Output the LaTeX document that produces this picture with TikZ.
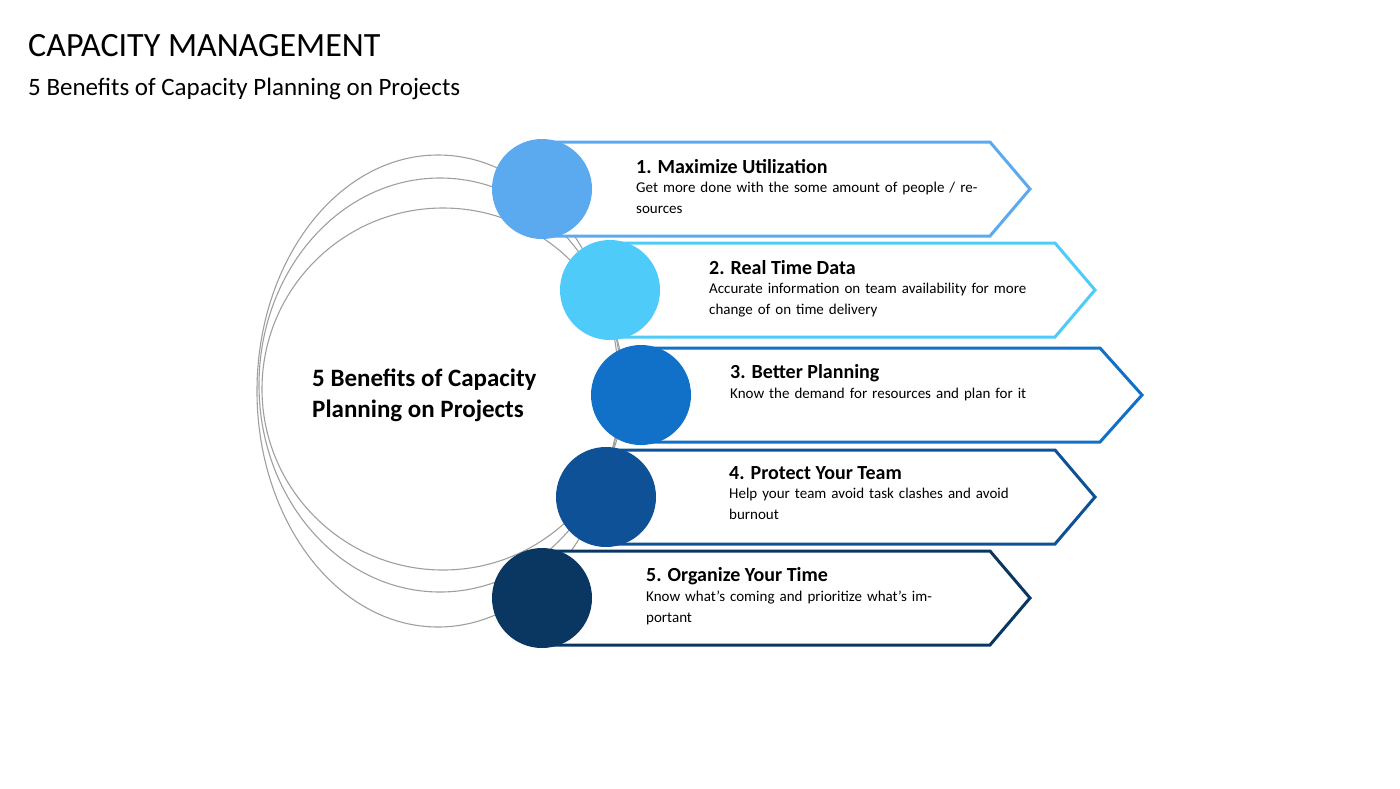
\documentclass[tikz,border=0pt]{standalone}
\usepackage{fontspec}
\setmainfont{Carlito}
\definecolor{cA}{HTML}{5BAAEF}
\definecolor{cB}{HTML}{4FCBF9}
\definecolor{cC}{HTML}{1170C8}
\definecolor{cD}{HTML}{0E5196}
\definecolor{cE}{HTML}{0A3761}
\begin{document}
\begin{tikzpicture}[x=1pt,y=-1pt,
  ring/.style={draw=gray!75,line width=1.1pt},
  head/.style={anchor=west,font=\fontsize{20}{24}\selectfont\bfseries,inner sep=0},
  body/.style={anchor=north west,align=left,font=\fontsize{15}{21}\selectfont,inner sep=0,text width=#1},
  body/.default=360pt]
\useasboundingbox (0,0) rectangle (1400,788);
\node[anchor=base west,inner sep=0,font=\fontsize{34}{40}\selectfont] (title) at (28,56) {CAPACITY MANAGEMENT};
\node[anchor=base west,inner sep=0,font=\fontsize{25}{30}\selectfont] (sub) at (28,95) {5 Benefits of Capacity Planning on Projects};
\draw[ring] (438,391) ellipse [x radius=181, y radius=236];
\draw[ring] (440,385) ellipse [x radius=181, y radius=207];
\draw[ring] (443,389) ellipse [x radius=181, y radius=181];
\node[anchor=west,align=left,inner sep=0,font=\fontsize{25}{31}\selectfont\bfseries] (center) at (312,395) {5 Benefits of Capacity\\Planning on Projects};
% arrows: cx, cy, flat x, tip x, color, head x, heading, body
\foreach \cx/\cy/\fx/\tx/\col/\hx/\n in {542/189/990/1030/cA/636/1,610/290/1055/1095/cB/709/2,641/395/1100/1142/cC/730/3,606/497/1055/1095/cD/729/4,542/598/990/1030/cE/646/5}{
  \draw[draw=\col,line width=3pt,fill=white,line join=miter] (\cx,\cy-47) -- (\fx,\cy-47) -- (\tx,\cy) -- (\fx,\cy+47) -- (\cx,\cy+47);
  \fill[\col] (\cx,\cy) circle (50);
}
\node[head] (h1) at (636,167) {1. Maximize Utilization};
\node[body=350pt] (b1) at (636,182) {Get more done with the some amount of people / resources};
\node[head] (h2) at (709,268) {2. Real Time Data};
\node[body=330pt] (b2) at (709,283) {Accurate information on team availability for more change of on time delivery};
\node[head] (h3) at (730,373) {3. Better Planning};
\node[body=300pt] (b3) at (730,388) {Know the demand for resources and plan for it};
\node[head] (h4) at (729,473) {4. Protect Your Team};
\node[body=290pt] (b4) at (729,488) {Help your team avoid task clashes and avoid burnout};
\node[head] (h5) at (646,576) {5. Organize Your Time};
\node[body=300pt] (b5) at (646,591) {Know what's coming and prioritize what's important};
\end{tikzpicture}
\end{document}
